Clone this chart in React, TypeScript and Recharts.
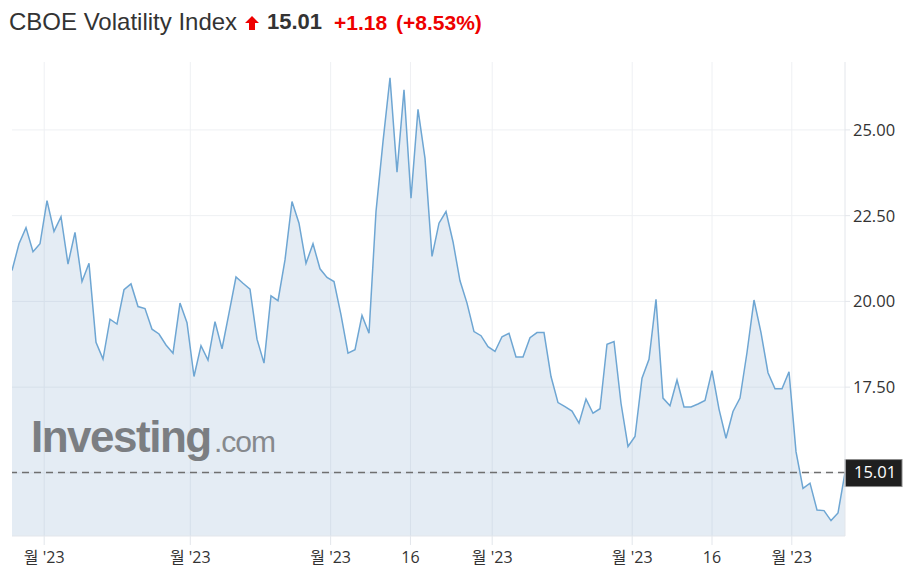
import React from "react";
import { AreaChart, Area, XAxis, YAxis, CartesianGrid, ReferenceLine } from "recharts";

const vixClose: number[] = [
  20.90, 21.68, 22.15, 21.45, 21.68, 22.94, 22.04, 22.47, 21.09, 22.01,
  20.58, 21.11, 18.81, 18.32, 19.48, 19.34, 20.34, 20.51, 19.85, 19.79,
  19.19, 19.05, 18.73, 18.49, 19.95, 19.38, 17.81, 18.71, 18.29, 19.41,
  18.62, 19.66, 20.71, 20.53, 20.36, 18.90, 18.20, 20.16, 20.02, 21.21,
  22.91, 22.28, 21.11, 21.68, 20.95, 20.70, 20.58, 19.61, 18.49, 18.59,
  19.59, 19.07, 22.62, 24.66, 26.52, 23.77, 26.17, 23.01, 25.60, 24.17,
  21.31, 22.28, 22.62, 21.74, 20.60, 19.95, 19.12, 19.00, 18.68, 18.54,
  18.97, 19.07, 18.38, 18.38, 18.94, 19.09, 19.09, 17.81, 17.05, 16.93,
  16.80, 16.45, 17.15, 16.74, 16.87, 18.75, 18.83, 17.03, 15.77, 16.06,
  17.76, 18.31, 20.06, 17.18, 16.96, 17.71, 16.92, 16.92, 17.01, 17.11,
  17.98, 16.86, 16.01, 16.79, 17.18, 18.51, 20.04, 19.09, 17.92, 17.45,
  17.45, 17.95, 15.62, 14.55, 14.70, 13.92, 13.90, 13.61, 13.83, 15.01,
];

const xTickPositions: number[] = [4.6, 25.47, 45.52, 56.92, 68.6, 88.6, 100.0, 111.4];
const xTickLabels: string[] = ["월 '23", "월 '23", "월 '23", "16", "월 '23", "월 '23", "16", "월 '23"];
const yTicks: number[] = [17.5, 20, 22.5, 25];
const yDomain: [number, number] = [13.16, 26.98];
const lastValue = 15.01;
const changeText = "+1.18";
const changePctText = "(+8.53%)";
const titleText = "CBOE Volatility Index";

const data = vixClose.map((v, i) => ({ i, v }));

const AXIS_FONT = "'Open Sans', 'Noto Sans CJK KR', sans-serif";
const TITLE_FONT = "'Liberation Sans', Arial, sans-serif";

const XTick = (props: any) => {
  const { x, y, payload } = props;
  const idx = xTickPositions.indexOf(payload.value);
  return (
    <text x={x} y={y} dy="0.71em" textAnchor="middle" fill="#333" fontSize={16} fontFamily={AXIS_FONT}>
      {xTickLabels[idx]}
    </text>
  );
};

const YTick = (props: any) => {
  const { x, y, payload } = props;
  return (
    <text x={x} y={y} dy="0.36em" textAnchor="start" fill="#333" fontSize={16.5} fontFamily={AXIS_FONT}>
      {payload.value.toFixed(2)}
    </text>
  );
};

const LastLabel = (props: any) => {
  const { viewBox } = props;
  const x = viewBox.x + viewBox.width;
  const y = viewBox.y;
  return (
    <g>
      <rect x={x} y={y - 13} width={57} height={27} fill="#1f1f1f" stroke="#8a8a8a" strokeWidth={1} />
      <text x={x + 9} y={y} dy="0.36em" fill="#fff" fontSize={16.5} fontFamily={AXIS_FONT}>
        {lastValue.toFixed(2)}
      </text>
    </g>
  );
};

const abs = (left: number, extra: React.CSSProperties = {}): React.CSSProperties => ({
  position: "absolute",
  left,
  bottom: 0,
  whiteSpace: "nowrap",
  ...extra,
});

export default function App() {
  return (
    <div style={{ position: "fixed", left: 0, top: 0, width: 918, height: 577, background: "#fff", overflow: "hidden" }}>
      <div style={{ position: "absolute", left: 0, top: 0, width: 918, height: 577 }}>
        <AreaChart width={918} height={577} data={data} margin={{ top: 62, right: 0, left: 12, bottom: 0 }}>
          <CartesianGrid stroke="#eef0f3" strokeWidth={1} horizontalValues={[15, 17.5, 20, 22.5, 25]} verticalValues={xTickPositions} />
          <XAxis
            dataKey="i"
            type="number"
            domain={[0, vixClose.length - 1]}
            ticks={xTickPositions}
            interval={0}
            height={41}
            tickSize={9}
            tickMargin={7}
            axisLine={{ stroke: "#e3e6eb" }}
            tickLine={{ stroke: "#e3e6eb" }}
            tick={<XTick />}
            allowDataOverflow
          />
          <YAxis
            orientation="right"
            type="number"
            domain={yDomain}
            ticks={yTicks}
            width={73}
            tickSize={5}
            tickMargin={3}
            axisLine={{ stroke: "#e3e6eb" }}
            tickLine={{ stroke: "#e3e6eb" }}
            tick={<YTick />}
            allowDataOverflow
          />
          <Area
            type="linear"
            dataKey="v"
            stroke="#6ea6d3"
            strokeWidth={1.5}
            fill="rgb(120,160,200)"
            fillOpacity={0.2}
            isAnimationActive={false}
            dot={false}
            activeDot={false}
          />
          <ReferenceLine y={lastValue} stroke="#6f6f6f" strokeDasharray="7 5" strokeWidth={1.5} label={<LastLabel />} />
        </AreaChart>
      </div>

      {/* title row, baseline at y=30 */}
      <div style={{ position: "absolute", left: 0, top: 0, width: 918, height: 35, fontFamily: TITLE_FONT, color: "#333", lineHeight: 1 }}>
        <span style={abs(9, { fontSize: 24, bottom: 1.3 })}>{titleText}</span>
        <svg width={14} height={14} viewBox="0 0 14 14" style={{ position: "absolute", left: 245, top: 16 }}>
          <polygon points="7,0 14,7 10,7 10,14 4,14 4,7 0,7" fill="#ee0000" />
        </svg>
        <span style={abs(267, { fontSize: 22, fontWeight: "bold", bottom: 1.6 })}>{lastValue.toFixed(2)}</span>
        <span style={abs(334, { fontSize: 21, fontWeight: "bold", color: "#ee0000", bottom: 1.8 })}>{changeText}</span>
        <span style={abs(396, { fontSize: 21, fontWeight: "bold", color: "#ee0000", bottom: 1.8 })}>{changePctText}</span>
      </div>

      {/* watermark */}
      <div style={{ position: "absolute", left: 0, top: 0, width: 918, height: 452, fontFamily: TITLE_FONT, pointerEvents: "none", lineHeight: 1 }}>
        <span style={abs(31, { fontSize: 44, fontWeight: "bold", letterSpacing: -1.5, color: "#7b7e82", bottom: -6.7 })}>Investing</span>
        <span style={abs(214, { fontSize: 30, letterSpacing: -1, color: "#86898d", bottom: -4.6 })}>.com</span>
      </div>
    </div>
  );
}
